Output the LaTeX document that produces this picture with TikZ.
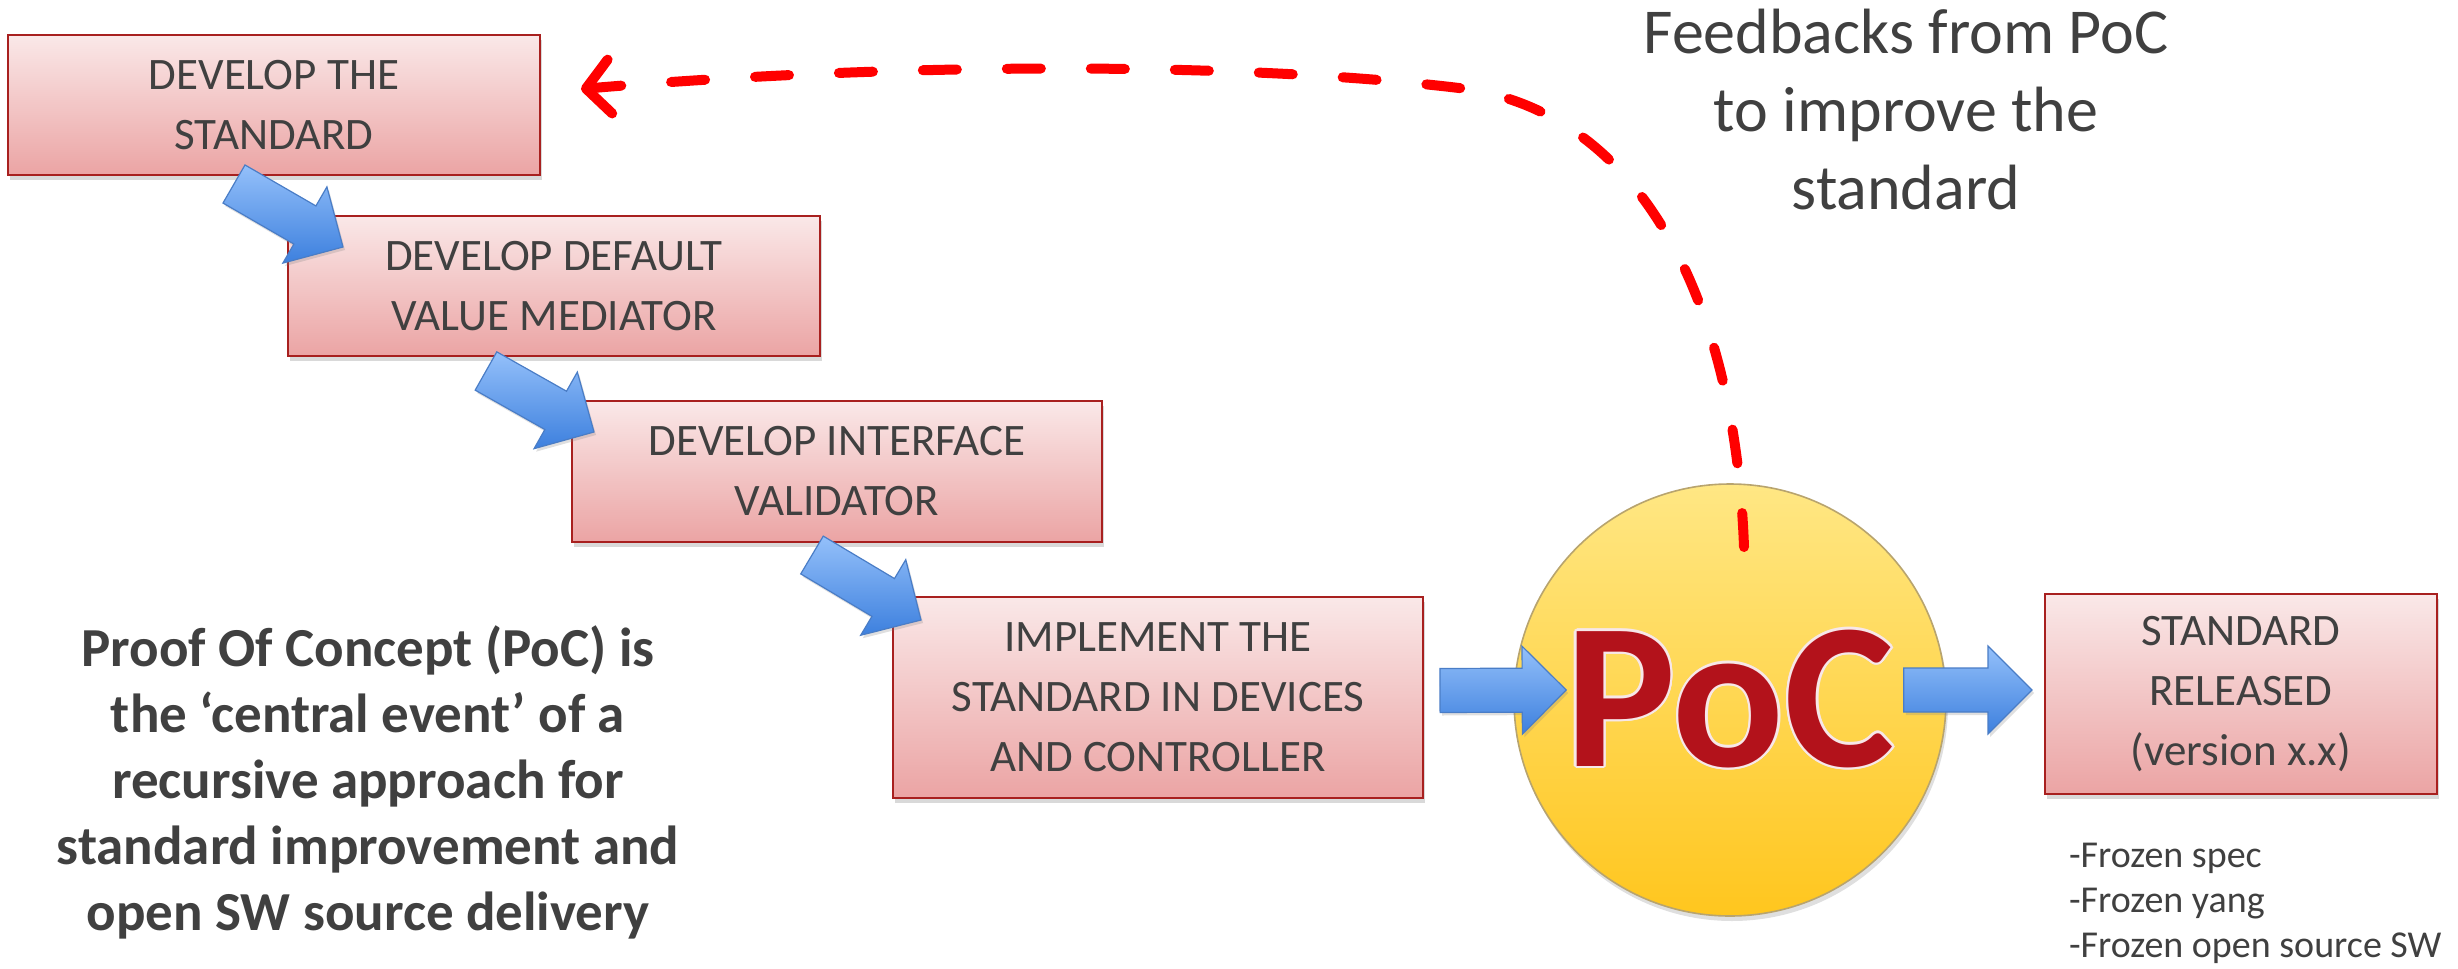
\documentclass[tikz,border=0pt]{standalone}
\usepackage{fontspec}
\setmainfont{Carlito}
\usepackage{contour}
\contourlength{1.2pt}
\usetikzlibrary{calc,shadows,arrows.meta}
\definecolor{boxtop}{HTML}{FAE8E8}
\definecolor{boxbot}{HTML}{EBA4A4}
\definecolor{boxedge}{HTML}{A8201F}
\definecolor{txt}{HTML}{404040}
\definecolor{arrowtop}{HTML}{94C0FA}
\definecolor{arrowbot}{HTML}{3D80DE}
\definecolor{arrowedge}{HTML}{4A7DC6}
\definecolor{poctop}{HTML}{FFE784}
\definecolor{pocbot}{HTML}{FFC61E}
\definecolor{pocedge}{HTML}{B8A46E}
\definecolor{pocred}{HTML}{B3121B}
\tikzset{
  blockarrow/.style={draw=arrowedge, line width=0.6pt, top color=arrowtop, bottom color=arrowbot,
    drop shadow={shadow xshift=1pt,shadow yshift=-1.5pt,opacity=0.25},
    to path={let \p1=($(\tikztotarget)!22pt!(\tikztostart)$) in
      ($(\tikztostart)!11pt!90:(\tikztotarget)$) -- ($(\p1)!11pt!90:(\tikztotarget)$)
      -- ($(\p1)!22pt!90:(\tikztotarget)$) -- (\tikztotarget)
      -- ($(\p1)!22pt!-90:(\tikztotarget)$) -- ($(\p1)!11pt!-90:(\tikztotarget)$)
      -- ($(\tikztostart)!11pt!-90:(\tikztotarget)$) -- cycle}}
}
\begin{document}
\begin{tikzpicture}[x=0.5pt,y=-0.5pt,
  box/.style={draw=boxedge, line width=1pt, top color=boxtop, bottom color=boxbot,
    drop shadow={shadow xshift=1pt,shadow yshift=-2.5pt,opacity=0.3},
    text=txt, font=\fontsize{22.5}{30}\selectfont, align=center, inner sep=0pt},
  fback/.style={draw=red, line width=5pt, line cap=round, dash pattern=on 17pt off 25pt,
    -{Straight Barb[length=12pt,width=27pt,line cap=round,line join=round]}}]
\useasboundingbox (0,0) rectangle (2458,969);
\node[box, minimum width=266pt, minimum height=70pt] (std) at (274,105) {DEVELOP THE\\STANDARD};
\node[box, minimum width=266pt, minimum height=70pt] (dvm) at (554,286) {DEVELOP DEFAULT\\VALUE MEDIATOR};
\node[box, minimum width=265pt, minimum height=70.5pt] (ivd) at (837,471.5) {DEVELOP INTERFACE\\VALIDATOR};
\node[box, minimum width=265pt, minimum height=100.5pt] (impl) at (1158,697.5) {IMPLEMENT THE\\STANDARD IN DEVICES\\AND CONTROLLER};
\node[box, minimum width=196pt, minimum height=100pt] (rel) at (2241,694) {STANDARD\\RELEASED\\(version x.x)};
\node[circle, draw=pocedge, line width=0.8pt, top color=poctop, bottom color=pocbot,
  minimum size=216pt, inner sep=0pt, drop shadow={shadow xshift=1pt,shadow yshift=-2.5pt,opacity=0.25},
  text=pocred, font=\fontsize{104}{104}\selectfont\bfseries] (poc) at (1730,700) {\contour{white!90!pocred}{PoC}};
\node[text=txt, font=\fontsize{27.5}{33}\selectfont\bfseries, align=center] (note) at (368,782)
  {Proof Of Concept (PoC) is\\the ‘central event’ of a\\recursive approach for\\standard improvement and\\open SW source delivery};
\node[text=txt, font=\fontsize{32}{39}\selectfont, align=center] (fb) at (1906,110)
  {Feedbacks from PoC\\to improve the\\standard};
\node[text=txt, font=\fontsize{19}{22.5}\selectfont, align=left, anchor=west] (frozen) at (2062,903)
  {-Frozen spec\\-Frozen yang\\-Frozen open source SW};
\coordinate (a1s) at ([xshift=-20pt,yshift=-4pt]std.south);
\coordinate (a1e) at ([xshift=28pt,yshift=-16pt]dvm.north west);
\coordinate (a2s) at ([xshift=-34pt,yshift=-7pt]dvm.south);
\coordinate (a2e) at ([xshift=11.5pt,yshift=-16pt]ivd.north west);
\coordinate (a3s) at ([xshift=-12.5pt,yshift=-6pt]ivd.south);
\coordinate (a3e) at ([xshift=14.5pt,yshift=-12pt]impl.north west);
\coordinate (a4s) at ([xshift=8pt,yshift=3.5pt]impl.east);
\coordinate (a4e) at ([xshift=26.5pt,yshift=5pt]poc.west);
\coordinate (a5s) at ([xshift=-21.5pt,yshift=5pt]poc.east);
\coordinate (a5e) at ([xshift=-6pt,yshift=2pt]rel.west);
\draw[blockarrow] (a1s) to (a1e);
\draw[blockarrow] (a2s) to (a2e);
\draw[blockarrow] (a3s) to (a3e);
\draw[blockarrow] (a4s) to (a4e);
\draw[blockarrow] (a5s) to (a5e);
\coordinate (fbs) at ([xshift=7pt,yshift=76.5pt]poc.center);
\coordinate (fbe) at ([xshift=20pt,yshift=8pt]std.east);
\draw[fback] (fbs) .. controls (1735,300) and (1640,110) .. (1459,88) .. controls (1242,62) and (900,62) .. (fbe);
\end{tikzpicture}
\end{document}
